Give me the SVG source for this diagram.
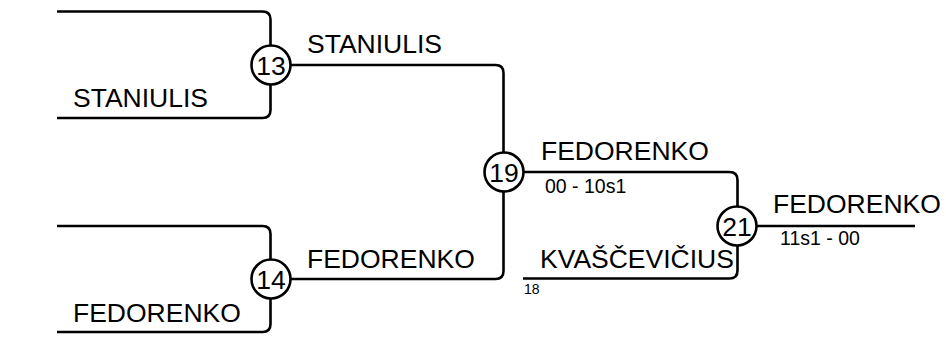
<svg xmlns="http://www.w3.org/2000/svg" width="946" height="338" viewBox="0 0 946 338">
<style>
.ln{fill:none;stroke:#000;stroke-width:2.6}
.c{fill:#fff;stroke:#000;stroke-width:2.6}
.t{font-family:"Liberation Sans",Arial,sans-serif;font-size:26.5px;fill:#000}
.n{font-family:"Liberation Sans",Arial,sans-serif;font-size:26.5px;fill:#000;text-anchor:middle}
.s{font-family:"Liberation Sans",Arial,sans-serif;font-size:19.5px;fill:#000}
.sm{font-family:"Liberation Sans",Arial,sans-serif;font-size:14px;fill:#000}
</style>
<g id="connectors">
<path class="ln" d="M57 11.5 H262.5 Q270.5 11.5 270.5 19.5 V110 Q270.5 118 262.5 118 H57"/>
<path class="ln" d="M57 226 H262.5 Q270.5 226 270.5 234 V324 Q270.5 332 262.5 332 H57"/>
<path class="ln" d="M271 65 H495.5 Q503.5 65 503.5 73 V271 Q503.5 279 495.5 279 H271"/>
<path class="ln" d="M504 172 H729.5 Q737.5 172 737.5 180 V270.5 Q737.5 278.5 729.5 278.5 H523"/>
<path class="ln" d="M737 226 H915"/>
</g>
<g id="m13">
<circle class="c" cx="271" cy="65" r="19.5"/>
<text class="n" x="271" y="74.5">13</text>
</g>
<g id="m14">
<circle class="c" cx="271" cy="279" r="19.5"/>
<text class="n" x="271" y="288.5">14</text>
</g>
<g id="m19">
<circle class="c" cx="504" cy="172" r="19.5"/>
<text class="n" x="504" y="181.5">19</text>
</g>
<g id="m21">
<circle class="c" cx="737" cy="226" r="19.5"/>
<text class="n" x="737" y="235.5">21</text>
</g>
<g id="labels">
<text class="t" x="73" y="107">STANIULIS</text>
<text class="t" x="73" y="322">FEDORENKO</text>
<text class="t" x="307" y="53">STANIULIS</text>
<text class="t" x="307" y="268">FEDORENKO</text>
<text class="t" x="541" y="160">FEDORENKO</text>
<text class="s" x="545" y="193">00 - 10s1</text>
<text class="t" x="540" y="268">KVAŠČEVIČIUS</text>
<text class="sm" x="524" y="294">18</text>
<text class="t" x="773" y="213">FEDORENKO</text>
<text class="s" x="780" y="245">11s1 - 00</text>
</g>
</svg>
